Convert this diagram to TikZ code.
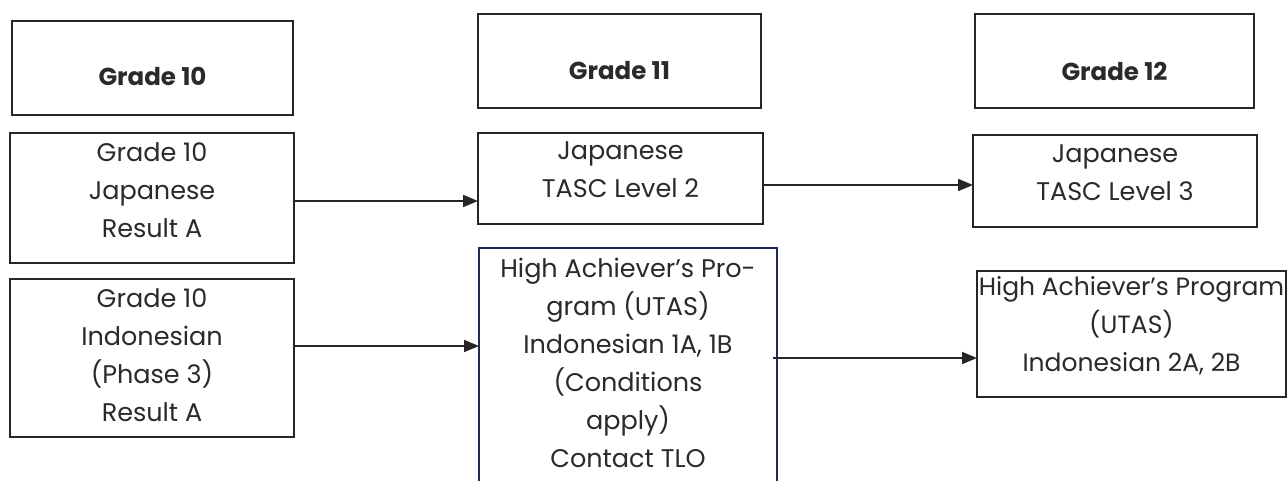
\documentclass[tikz,border=0pt]{standalone}
\usepackage{fontspec}
\setmainfont{Poppins}
\usetikzlibrary{arrows.meta,calc}
\definecolor{ln}{HTML}{262626}
\definecolor{navy}{HTML}{1F2B57}
\definecolor{tx}{HTML}{2A2A2A}
\begin{document}
\begin{tikzpicture}[x=1pt,y=-1pt,
  box/.style={draw=ln,line width=1.8pt,rectangle,inner sep=0pt,outer sep=0pt},
  body/.style={text=tx,align=center,inner sep=0pt,font=\fontsize{25.5}{38}\selectfont},
  head/.style={text=tx,inner sep=0pt,font=\fontsize{24.5}{28}\selectfont\bfseries},
  arr/.style={draw=ln,line width=1.8pt,-{Triangle[length=15pt,width=12pt]}}]
\useasboundingbox[fill=white] (0,0) rectangle (1287,480);

% header boxes
\node[box,minimum width=281pt,minimum height=94pt] (g10) at (152.5,68) {};
\node[box,minimum width=283pt,minimum height=94pt] (g11) at (619.5,61) {};
\node[box,minimum width=279pt,minimum height=94pt] (g12) at (1114.5,61) {};
\node[head] (g10t) at (152.5,76) {Grade 10};
\node[head] (g11t) at (619.5,71) {Grade 11};
\node[head] (g12t) at (1114.5,71) {Grade 12};

% grade 10 column
\node[box,minimum width=284pt,minimum height=130pt] (jap10) at (152,198) {};
\node[body] (jap10t) at (152,190) {Grade 10\\Japanese\\Result A};
\node[box,minimum width=284pt,minimum height=158pt] (indo10) at (152,358) {};
\node[body] (indo10t) at (152,355) {Grade 10\\Indonesian\\(Phase 3)\\Result A};

% grade 11 column
\node[box,minimum width=285pt,minimum height=91pt] (tasc2) at (620.5,178.5) {};
\node[body] (tasc2t) at (620.5,170) {Japanese\\TASC Level 2};
\node[box,draw=navy,minimum width=298pt,minimum height=260pt] (ha) at (628,378) {};
\node[body] (hat) at (628,362.5) {High Achiever’s Pro-\\gram (UTAS)\\Indonesian 1A, 1B\\(Conditions\\apply)\\Contact TLO};

% grade 12 column
\node[box,minimum width=284pt,minimum height=92pt] (tasc3) at (1115,181) {};
\node[body] (tasc3t) at (1115,173) {Japanese\\TASC Level 3};
\node[box,minimum width=309pt,minimum height=126pt] (ha2) at (1131.5,334) {};
\node[body,font=\fontsize{25}{38}\selectfont] (ha2t) at (1131.5,326) {High Achiever’s Program\\(UTAS)\\Indonesian 2A, 2B};

% connectors
\draw[arr] ([yshift=-3pt]jap10.east) -- ([yshift=-3pt]jap10.east -| tasc2.west);
\draw[arr] ([yshift=12pt]indo10.east) -- ([yshift=12pt]indo10.east -| ha.west);
\draw[arr] ([yshift=-6.5pt]tasc2.east) -- ([yshift=-6.5pt]tasc2.east -| tasc3.west);
\draw[arr] ([yshift=-24pt,xshift=-4pt]ha2.west -| ha.east) -- ([yshift=-24pt]ha2.west);
\end{tikzpicture}
\end{document}
